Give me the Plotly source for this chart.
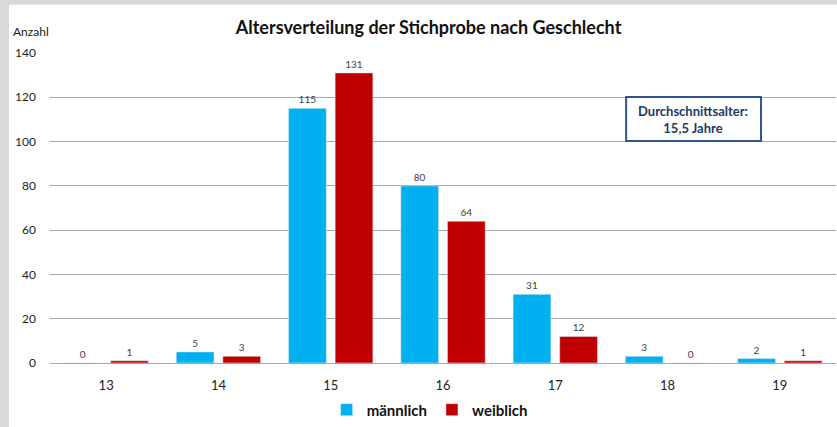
import plotly.graph_objects as go

alter = ["13", "14", "15", "16", "17", "18", "19"]
maennlich = [0, 5, 115, 80, 31, 3, 2]
weiblich = [1, 3, 131, 64, 12, 0, 1]
y_ticks = [0, 20, 40, 60, 80, 100, 120, 140]

FONT = "Lato"

fig = go.Figure()
fig.add_trace(go.Bar(name="männlich", x=alter, y=maennlich, marker_color="#00B0F0",
                     text=maennlich, textposition="outside",
                     textfont=dict(size=10, color="#404040"), cliponaxis=False))
fig.add_trace(go.Bar(name="weiblich", x=alter, y=weiblich, marker_color="#C00000",
                     text=weiblich, textposition="outside",
                     textfont=dict(size=10, color="#404040"), cliponaxis=False))

fig.update_layout(
    width=837, height=427,
    paper_bgcolor="white", plot_bgcolor="white",
    margin=dict(l=50, r=1, t=53, b=64, autoexpand=False),
    barmode="group", bargap=0.17, bargroupgap=0.19,
    font=dict(family=FONT, color="#222222"),
    title=dict(text="<b>Altersverteilung der Stichprobe nach Geschlecht</b>",
               x=0.512, xanchor="center", y=0.935, yanchor="middle",
               font=dict(size=18, color="#111111")),
    showlegend=True,
    legend=dict(orientation="h", x=0.483, xanchor="center",
                yref="container", y=0.04, yanchor="middle",
                font=dict(size=15, color="#111111", weight="bold"), traceorder="normal",
                itemwidth=30),
    xaxis=dict(showgrid=False, showline=True, linecolor="#A6A6A6", linewidth=1,
               tickfont=dict(size=13, color="#222222"), ticks="", ticklabelstandoff=10),
    yaxis=dict(range=[0, 140], tickvals=y_ticks, showgrid=True, gridcolor="#A6A6A6",
               gridwidth=1, zeroline=False, showline=False,
               tickfont=dict(size=12, color="#222222"), ticks="", ticklabelstandoff=13),
    shapes=[
        dict(type="rect", xref="paper", yref="paper", x0=-0.1, x1=-0.0522, y0=-1, y1=2,
             fillcolor="#D9D9D9", line=dict(width=0), layer="below"),
        dict(type="rect", xref="paper", yref="paper", x0=-0.1, x1=1.1,
             y0=1.156, y1=1.5, fillcolor="#D9D9D9", line=dict(width=0)),
        dict(type="rect", xref="paper", yref="paper", x0=0.733, x1=0.9046,
             y0=0.716, y1=0.858, fillcolor="white", line=dict(color="#2F5496", width=2)),
    ],
    annotations=[
        dict(text="Anzahl", xref="paper", yref="paper", x=-0.05, y=1.07,
             xanchor="left", yanchor="middle", showarrow=False,
             font=dict(size=12, color="#222222")),
        dict(text="<b>Durchschnittsalter:<br>15,5 Jahre</b>", xref="paper", yref="paper",
             x=0.8187, y=0.787, xanchor="center", yanchor="middle", showarrow=False,
             font=dict(size=13, color="#1F3864"), align="center"),
    ],
)

fig.write_html("out.html", config={"displayModeBar": False},
               post_script="document.body.style.margin='0';")
